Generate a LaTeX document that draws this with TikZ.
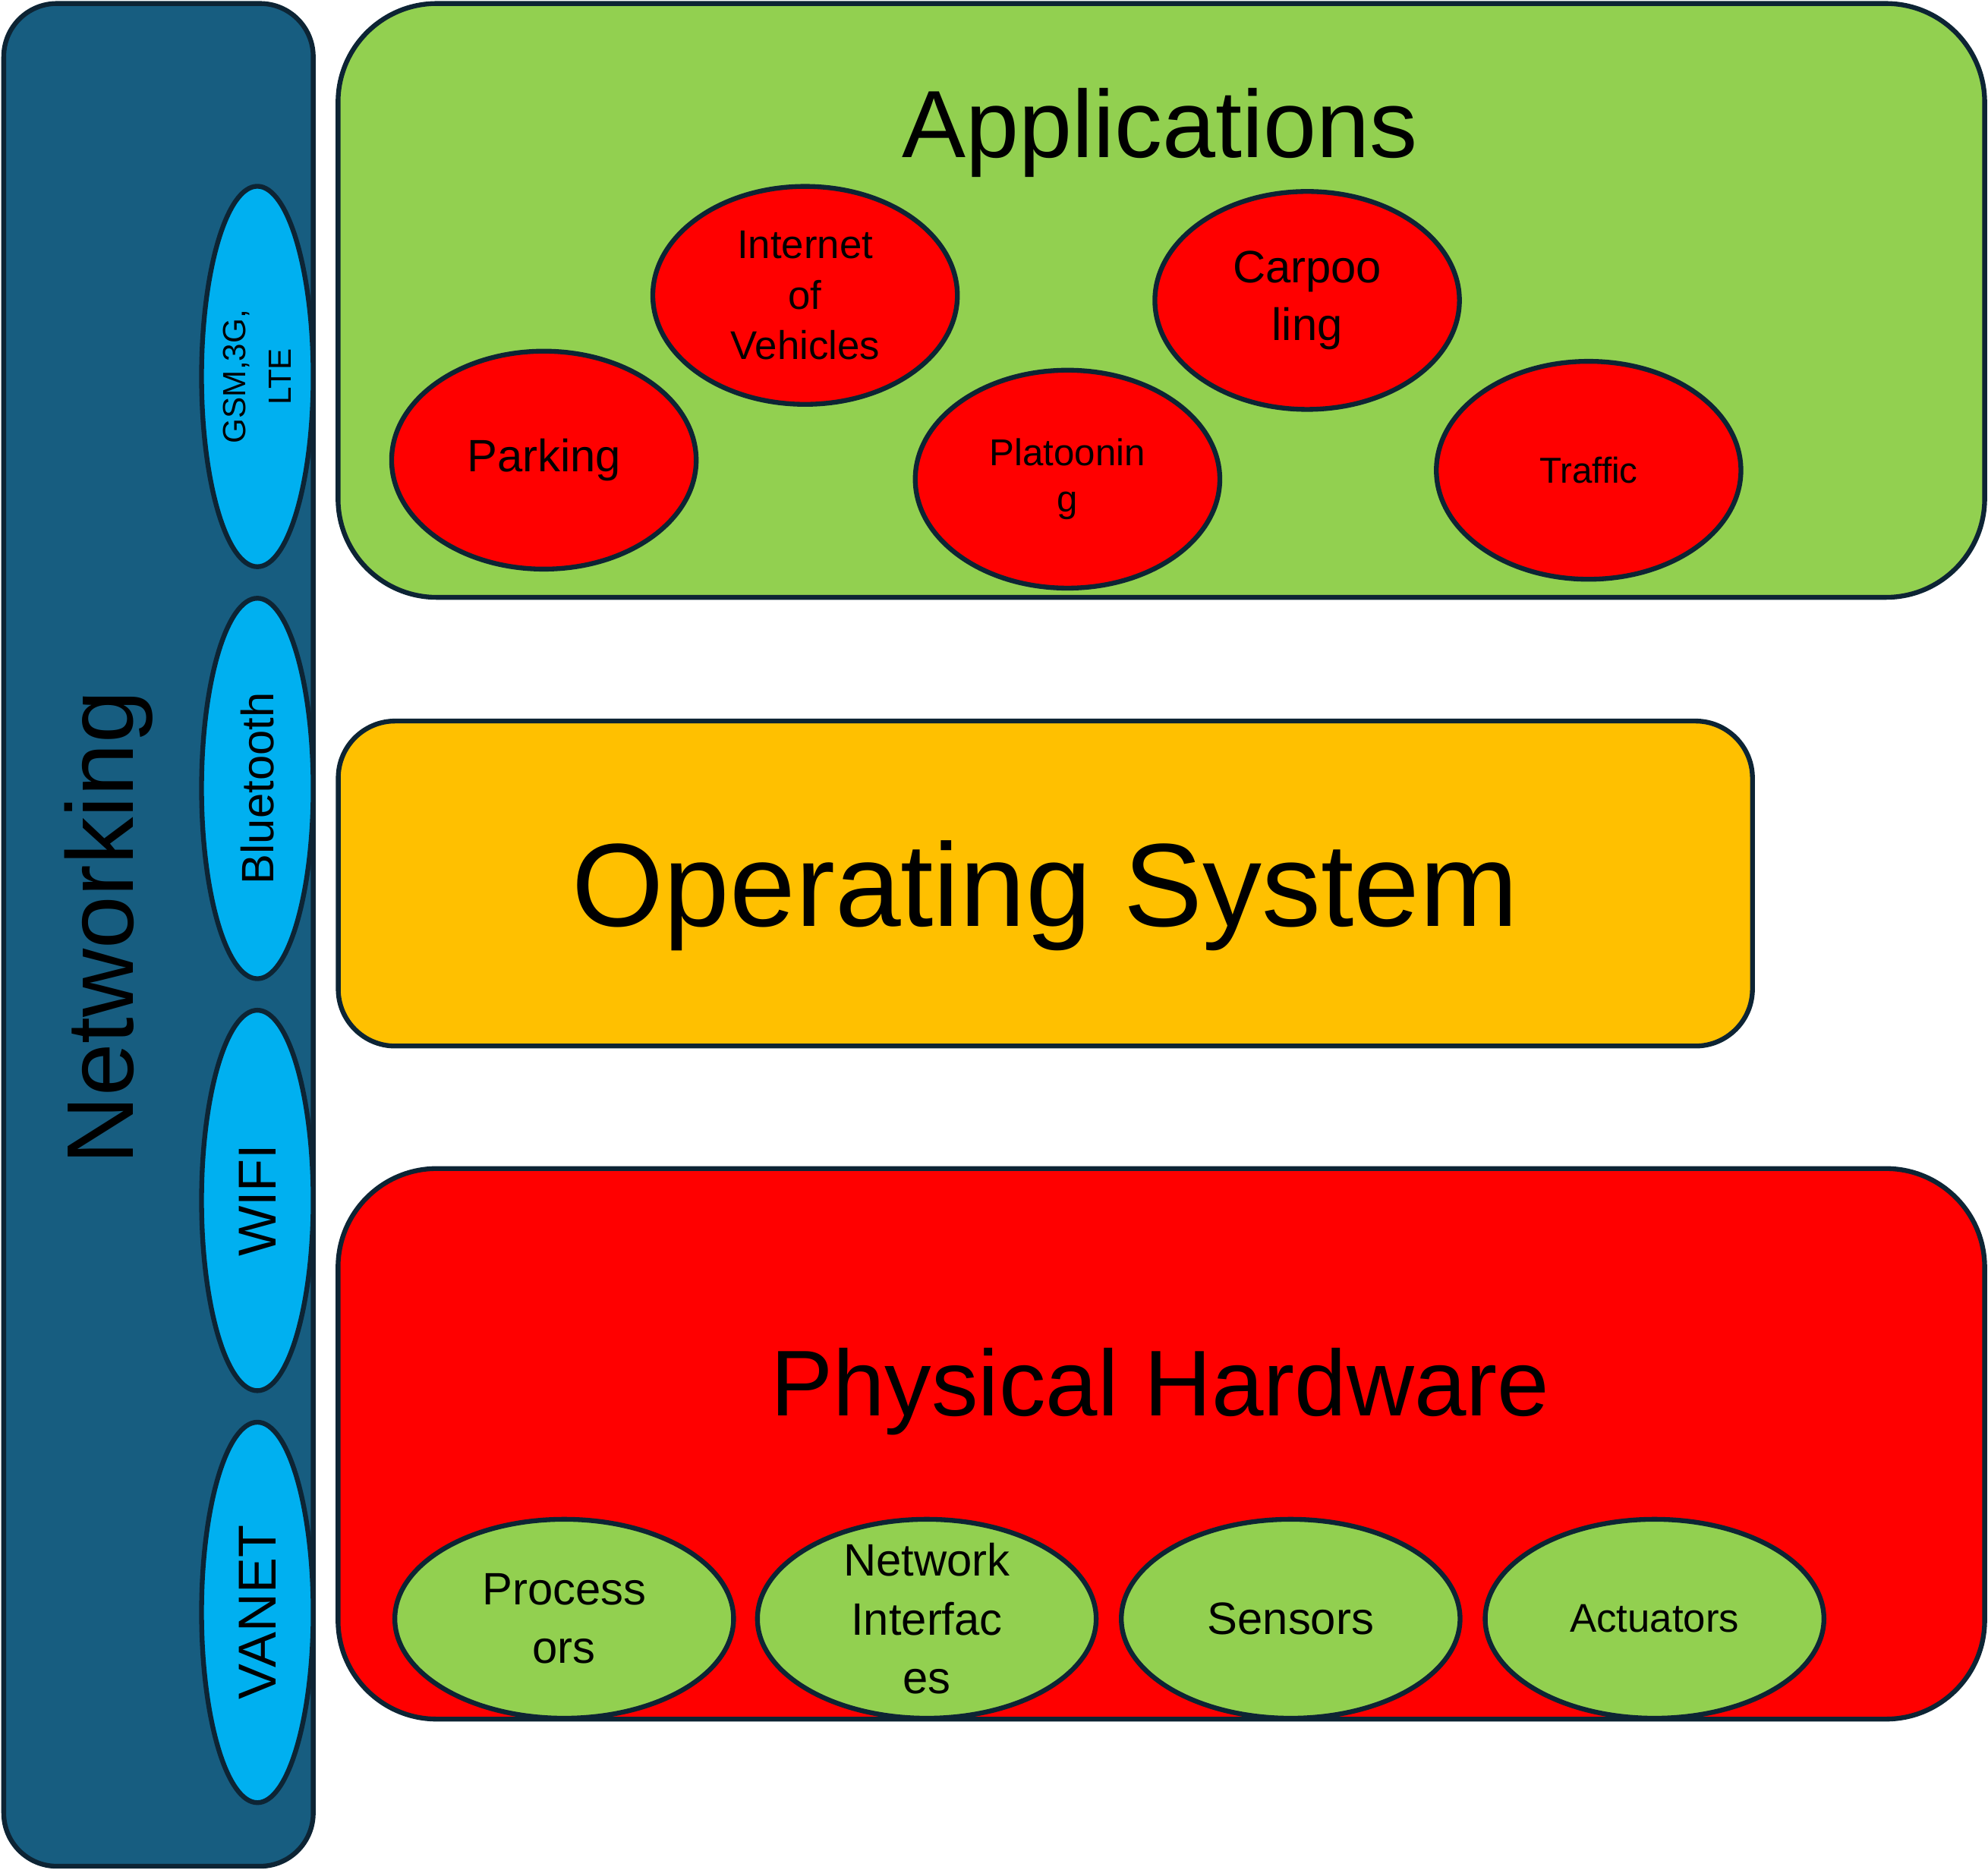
\documentclass[tikz,border=0pt]{standalone}
\usepackage{fontspec}
\setmainfont{Liberation Sans}
\usetikzlibrary{shapes.geometric}
\definecolor{netblue}{HTML}{175D80}
\definecolor{linkcyan}{HTML}{00B0F0}
\definecolor{appgreen}{HTML}{92D050}
\definecolor{osyellow}{HTML}{FFC000}
\definecolor{hwred}{HTML}{FF0000}
\definecolor{rim}{HTML}{0D2434}

\begin{document}
\begin{tikzpicture}
	[x=0.0167cm, y=-0.0167cm,
	 every node/.style={draw=rim, line width=1.8pt, inner sep=0pt},
	 layer/.style={rectangle, rounded corners=1.3cm},
	 title/.style={draw=none, anchor=base},
	 link/.style={ellipse, fill=linkcyan, rotate=90, align=center,
	   minimum width=5.01cm, minimum height=1.47cm},
	 app/.style={ellipse, fill=hwred, align=center,
	   minimum width=4.01cm, minimum height=2.87cm},
	 part/.style={ellipse, fill=appgreen, align=center,
	   minimum width=4.46cm, minimum height=2.62cm}]
	\useasboundingbox (0,0) rectangle (1568,1475);

	\node (net) [layer, rounded corners=0.7cm, fill=netblue,
	  minimum width=4.075cm, minimum height=24.53cm] at (125,737.5) {};
	\node (nettitle) [title, rotate=90, font=\fontsize{35.5}{42}\selectfont]
	  at (105,732) {Networking};
	\node (gsm) [link, font=\fontsize{12}{17}\selectfont] at (203,297) {GSM,3G,\\LTE};
	\node (bt) [link, font=\fontsize{17}{21}\selectfont] at (203,622) {Bluetooth};
	\node (wifi) [link, font=\fontsize{20}{24}\selectfont] at (203,947) {WIFI};
	\node (vanet) [link, font=\fontsize{20}{24}\selectfont] at (203,1272) {VANET};

	\node (apps) [layer, fill=appgreen,
	  minimum width=21.68cm, minimum height=7.82cm] at (916,237) {};
	\node (appstitle) [title, font=\fontsize{35.8}{42}\selectfont] at (915,124) {Applications};
	\node (parking) [app, font=\fontsize{17}{21}\selectfont] at (429,363) {Parking};
	\node (iov) [app, font=\fontsize{15}{19}\selectfont] at (635,233) {Internet\\of\\Vehicles};
	\node (platoon) [app, font=\fontsize{14}{17.5}\selectfont] at (842,378) {Platoonin\\g};
	\node (carpool) [app, font=\fontsize{17}{21.5}\selectfont] at (1031,237) {Carpoo\\ling};
	\node (traffic) [app, font=\fontsize{13.5}{16}\selectfont] at (1253,371) {Traffic};

	\node (os) [layer, rounded corners=0.75cm, fill=osyellow, text depth=0pt,
	  minimum width=18.62cm, minimum height=4.28cm,
	  font=\fontsize{44.3}{50}\selectfont] at (824.5,697) {Operating System};

	\node (hw) [layer, fill=hwred,
	  minimum width=21.68cm, minimum height=7.25cm] at (916,1139) {};
	\node (hwtitle) [title, font=\fontsize{35}{42}\selectfont] at (915,1117) {Physical Hardware};
	\node (proc) [part, font=\fontsize{17}{22}\selectfont] at (445,1277) {Process\\ors};
	\node (nic) [part, inner ysep=-8pt, font=\fontsize{17}{22}\selectfont] at (731,1277) {Network\\Interfac\\es};
	\node (sensors) [part, font=\fontsize{17}{22}\selectfont] at (1018,1277) {Sensors};
	\node (act) [part, font=\fontsize{15}{18}\selectfont] at (1305,1277) {Actuators};
\end{tikzpicture}
\end{document}
